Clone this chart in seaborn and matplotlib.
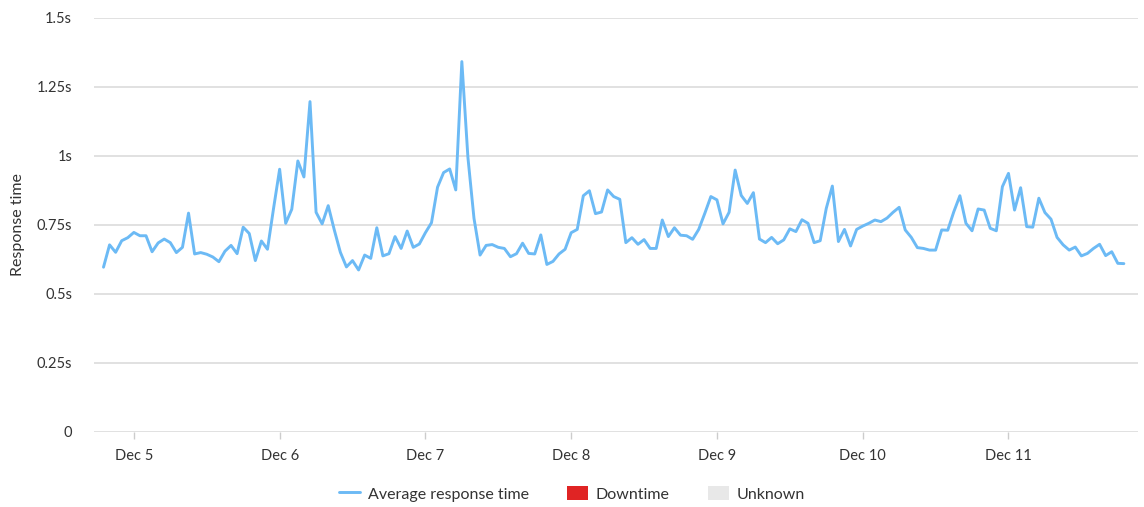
import pandas as pd
import seaborn as sns
import matplotlib
matplotlib.use('Agg')
import matplotlib.pyplot as plt
from matplotlib.lines import Line2D
from matplotlib.patches import Patch
from matplotlib.ticker import FuncFormatter

# hourly average response time (seconds), first sample Dec 4 19:00
start_time = "2023-12-04 19:00"
response_times = [
    0.597, 0.678, 0.651, 0.693, 0.704,
    0.723, 0.711, 0.711, 0.653, 0.685, 0.699, 0.686, 0.650, 0.669, 0.793, 0.645, 0.650,
    0.644, 0.634, 0.617, 0.655, 0.676, 0.646, 0.742, 0.719, 0.621, 0.692, 0.662, 0.810,
    0.952, 0.756, 0.807, 0.982, 0.924, 1.197, 0.796, 0.754, 0.820, 0.732, 0.651, 0.598,
    0.621, 0.587, 0.641, 0.629, 0.740, 0.638, 0.646, 0.708, 0.665, 0.728, 0.669, 0.681,
    0.722, 0.758, 0.887, 0.940, 0.953, 0.877, 1.342, 0.995, 0.774, 0.641, 0.676, 0.679,
    0.669, 0.665, 0.635, 0.646, 0.684, 0.647, 0.645, 0.714, 0.607, 0.618, 0.645, 0.662,
    0.722, 0.734, 0.856, 0.874, 0.791, 0.797, 0.877, 0.853, 0.843, 0.686, 0.704, 0.680,
    0.697, 0.665, 0.665, 0.768, 0.708, 0.740, 0.713, 0.711, 0.698, 0.734, 0.792, 0.853,
    0.841, 0.754, 0.796, 0.949, 0.857, 0.828, 0.867, 0.699, 0.686, 0.705, 0.682, 0.696,
    0.736, 0.726, 0.769, 0.756, 0.686, 0.693, 0.810, 0.891, 0.690, 0.734, 0.674, 0.734,
    0.746, 0.756, 0.768, 0.762, 0.775, 0.796, 0.814, 0.732, 0.705, 0.668, 0.665, 0.659,
    0.659, 0.732, 0.731, 0.798, 0.856, 0.756, 0.729, 0.808, 0.804, 0.738, 0.729, 0.889,
    0.937, 0.804, 0.885, 0.744, 0.742, 0.847, 0.795, 0.771, 0.705, 0.678, 0.659, 0.670,
    0.638, 0.647, 0.665, 0.680, 0.639, 0.653, 0.611, 0.610,
]
tick_days = ["2023-12-05", "2023-12-06", "2023-12-07", "2023-12-08",
             "2023-12-09", "2023-12-10", "2023-12-11"]
tick_labels = ["Dec 5", "Dec 6", "Dec 7", "Dec 8", "Dec 9", "Dec 10", "Dec 11"]
y_ticks = [0, 0.25, 0.5, 0.75, 1.0, 1.25, 1.5]
legend_labels = ["Average response time", "Downtime", "Unknown"]

line_color = "#6cbaf5"
text_color = "#333333"
grid_color = "#e1e1e1"

df = pd.DataFrame({
    "time": pd.date_range(start_time, periods=len(response_times), freq="h"),
    "response": response_times,
})

sns.set_theme(style="white")
plt.rcParams['font.family'] = ['Lato', 'DejaVu Sans']

fig = plt.figure(figsize=(11.44, 5.07), dpi=100)
ax = fig.add_axes([0.0825, 0.148, 0.9123, 0.8165])

for v in y_ticks:
    ax.axhline(v, color=grid_color, lw=1.4, zorder=0)

sns.lineplot(data=df, x="time", y="response", ax=ax, color=line_color,
             lw=2.1, zorder=3)

ax.set_ylim(0, 1.5)
ax.set_xlim(pd.Timestamp("2023-12-04 17:30"), pd.Timestamp("2023-12-11 21:20"))
ax.set_yticks(y_ticks)
ax.yaxis.set_major_formatter(FuncFormatter(lambda v, p: "0" if v == 0 else f"{v:g}s"))
ax.set_xticks(pd.to_datetime(tick_days))
ax.set_xticklabels(tick_labels)

for s in ax.spines.values():
    s.set_visible(False)

ax.tick_params(axis="y", length=0, pad=16, labelsize=10.5, labelcolor=text_color)
ax.tick_params(axis="x", length=5, width=1, color="#cccccc", pad=7,
               labelsize=10.5, labelcolor=text_color, bottom=True)

ax.set_xlabel("")
ax.set_ylabel("Response time", fontsize=11.5, color=text_color)
ax.yaxis.set_label_coords(-0.066, 0.5)

handles = [
    Line2D([0], [0], color=line_color, lw=2.1),
    Patch(facecolor="#e02424", edgecolor="none"),
    Patch(facecolor="#e8e8e8", edgecolor="none"),
]
fig.legend(handles, legend_labels, loc="center", bbox_to_anchor=(0.5, 0.026),
           ncol=3, frameon=False, fontsize=11.5, labelcolor=text_color,
           handlelength=1.3, handleheight=0.95, columnspacing=2.4, handletextpad=0.5)

fig.savefig("out.png", dpi=100)
